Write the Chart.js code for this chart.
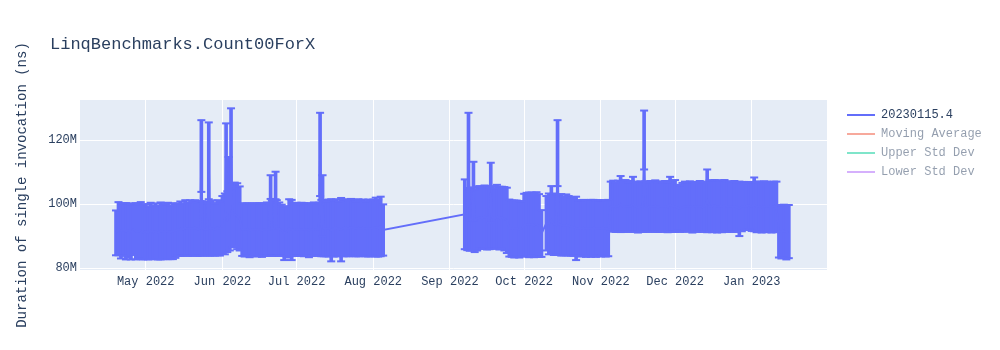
<!DOCTYPE html>
<html><head><meta charset="utf-8">
<script src="https://cdn.jsdelivr.net/npm/chart.js@4.4.1/dist/chart.umd.min.js"></script>
<style>
body{margin:0;background:#fff;}
#wrap{position:relative;width:1000px;height:350px;font-family:"Liberation Mono","Courier New",monospace;}
#c{position:absolute;left:0;top:0;}
#title{position:absolute;left:50px;top:35px;font-size:17px;line-height:20px;color:#2a3f5f;white-space:pre;}
#legend{position:absolute;left:847px;top:105px;}
.li{height:19px;display:flex;align-items:center;font-size:12px;color:#2a3f5f;white-space:pre;}
.sw{width:28px;height:2px;margin-right:6px;}
</style></head>
<body><div id="wrap"><canvas id="c" width="1000" height="350"></canvas><div id="title"></div><div id="legend"></div></div>
<script>
const chartTitle = 'LinqBenchmarks.Count00ForX';
const yAxisTitle = 'Duration of single invocation (ns)';
const seriesLabel = '20230115.4';
const extraSeries = ['Moving Average', 'Upper Std Dev', 'Lower Std Dev'];
const extraColors = ['#EF553B', '#00cc96', '#ab63fa'];
const mainColor = '#636efa';

// run timestamps (some days have a second, later run)
const dates = [
 '2022-04-19','2022-04-20','2022-04-21','2022-04-22','2022-04-23','2022-04-24','2022-04-25','2022-04-26','2022-04-27','2022-04-28','2022-04-29','2022-04-30',
 '2022-05-01','2022-05-02','2022-05-03','2022-05-04','2022-05-05','2022-05-06','2022-05-07','2022-05-08','2022-05-09','2022-05-10','2022-05-11','2022-05-12','2022-05-13','2022-05-14','2022-05-15','2022-05-16','2022-05-17','2022-05-18','2022-05-19','2022-05-20','2022-05-21','2022-05-22','2022-05-23','2022-05-23T12:00','2022-05-24','2022-05-25','2022-05-26','2022-05-26T12:00','2022-05-27','2022-05-28','2022-05-29','2022-05-30','2022-05-31',
 '2022-06-01','2022-06-02','2022-06-02T12:00','2022-06-03','2022-06-03T12:00','2022-06-04','2022-06-04T12:00','2022-06-05','2022-06-06','2022-06-07','2022-06-08','2022-06-09','2022-06-10','2022-06-11','2022-06-12','2022-06-13','2022-06-14','2022-06-15','2022-06-16','2022-06-17','2022-06-18','2022-06-19','2022-06-20','2022-06-20T12:00','2022-06-21','2022-06-22','2022-06-22T12:00','2022-06-23','2022-06-24','2022-06-25','2022-06-26','2022-06-27','2022-06-28','2022-06-29','2022-06-30',
 '2022-07-01','2022-07-02','2022-07-03','2022-07-04','2022-07-05','2022-07-06','2022-07-07','2022-07-08','2022-07-09','2022-07-10','2022-07-10T12:00','2022-07-11','2022-07-11T12:00','2022-07-12','2022-07-13','2022-07-14','2022-07-15','2022-07-16','2022-07-17','2022-07-18','2022-07-19','2022-07-20','2022-07-21','2022-07-22','2022-07-23','2022-07-24','2022-07-25','2022-07-26','2022-07-27','2022-07-28','2022-07-29','2022-07-30','2022-07-31',
 '2022-08-01','2022-08-02','2022-08-03','2022-08-04','2022-08-05',
 '2022-09-07','2022-09-08','2022-09-08T12:00','2022-09-09','2022-09-10','2022-09-10T12:00','2022-09-11','2022-09-12','2022-09-13','2022-09-14','2022-09-15','2022-09-16','2022-09-17','2022-09-17T12:00','2022-09-18','2022-09-19','2022-09-20','2022-09-21','2022-09-22','2022-09-23','2022-09-24','2022-09-25','2022-09-26','2022-09-27','2022-09-28','2022-09-29','2022-09-30',
 '2022-10-01','2022-10-02','2022-10-03','2022-10-04','2022-10-05','2022-10-06','2022-10-07','2022-10-08',
 '2022-10-10','2022-10-11','2022-10-12','2022-10-13','2022-10-14','2022-10-14T12:00','2022-10-15','2022-10-16','2022-10-17','2022-10-18','2022-10-19','2022-10-20','2022-10-21','2022-10-22','2022-10-23','2022-10-24','2022-10-25','2022-10-26','2022-10-27','2022-10-28','2022-10-29','2022-10-30','2022-10-31',
 '2022-11-01','2022-11-02','2022-11-03','2022-11-04',
 '2022-11-05','2022-11-06','2022-11-07','2022-11-08','2022-11-09','2022-11-10','2022-11-11','2022-11-12','2022-11-13','2022-11-14','2022-11-15','2022-11-16','2022-11-17','2022-11-18','2022-11-18T12:00','2022-11-19','2022-11-20','2022-11-21','2022-11-22','2022-11-23','2022-11-24','2022-11-25','2022-11-26','2022-11-27','2022-11-28','2022-11-29','2022-11-30',
 '2022-12-01','2022-12-02','2022-12-03','2022-12-04','2022-12-05','2022-12-06','2022-12-07','2022-12-08','2022-12-09','2022-12-10','2022-12-11','2022-12-12','2022-12-13','2022-12-14','2022-12-15','2022-12-16','2022-12-17','2022-12-18','2022-12-19','2022-12-20','2022-12-21','2022-12-22','2022-12-23','2022-12-24','2022-12-25','2022-12-26','2022-12-27','2022-12-28','2022-12-29','2022-12-30','2022-12-31',
 '2023-01-01','2023-01-02','2023-01-03','2023-01-04','2023-01-05','2023-01-06','2023-01-07','2023-01-08','2023-01-09','2023-01-10','2023-01-11','2023-01-12','2023-01-13','2023-01-14','2023-01-15','2023-01-16'
];

// mean duration per run, in millions of ns
const means = [
 91.0,92.3,91.6,92.0,91.5,91.8,91.3,92.1,91.5,91.4,91.7,91.2,
 91.4,91.0,91.6,91.2,91.5,91.1,91.6,91.3,91.4,91.6,91.2,91.5,91.7,92.0,92.3,92.0,92.6,92.2,92.5,92.3,92.6,92.1,92.4,115.0,92.4,92.0,92.2,113.5,92.3,92.5,92.1,92.6,92.3,
 93.5,93.8,114.0,94.5,106.5,95.5,117.0,96.5,96.8,96.2,95.5,92.0,91.9,92.1,91.8,92.0,92.2,91.9,92.1,91.8,92.0,92.2,92.0,105.3,92.4,92.3,105.8,92.5,92.2,91.8,90.9,91.4,92.4,91.9,92.0,
 92.1,91.9,92.2,92.0,92.1,91.8,92.0,92.2,92.0,92.1,115.5,92.5,99.5,92.4,92.3,92.5,91.8,92.4,92.6,92.3,92.0,92.5,92.6,92.4,92.7,92.5,92.3,92.6,92.4,92.6,92.3,92.5,92.4,
 92.6,92.8,92.5,93.0,91.9,
 96.8,95.3,116.7,95.0,95.4,104.0,94.8,95.5,95.8,95.6,96.0,95.7,95.6,103.5,95.9,95.5,96.1,95.6,95.8,95.4,94.9,92.5,92.3,92.2,92.4,92.1,92.3,
 93.4,93.6,93.5,93.7,93.4,93.6,93.3,90.8,
 94.0,93.8,95.0,93.7,93.5,115.9,93.6,93.5,93.2,93.5,93.2,93.0,92.8,92.4,92.5,92.4,92.6,92.3,92.5,92.4,92.6,92.3,92.5,
 92.4,92.6,92.3,92.5,
 99.2,99.4,99.0,99.3,100.0,99.2,99.4,99.1,99.3,99.9,99.2,99.0,99.3,99.1,120.0,99.2,99.0,99.3,99.1,99.4,99.0,99.2,99.1,99.3,99.0,99.9,99.3,
 99.4,98.8,98.6,99.0,99.2,99.1,99.3,99.0,99.2,99.1,99.3,99.0,99.2,101.0,99.4,99.3,99.5,99.2,99.4,99.3,99.5,99.2,99.2,99.1,99.3,99.0,98.5,99.2,99.4,99.3,99.5,
 99.2,99.9,99.1,99.2,99.0,99.3,99.1,99.2,99.0,99.2,99.1,91.5,91.3,91.6,91.2,91.4
];

// error bar half-height per run, in millions of ns
const errs = [
 7.0,8.3,8.6,8.2,8.8,8.4,8.6,8.0,8.8,8.5,8.9,8.5,
 8.6,8.3,8.8,8.4,8.7,8.4,8.9,8.5,8.6,8.8,8.4,8.7,8.5,8.1,8.5,8.2,8.6,8.3,8.7,8.4,8.6,8.3,8.5,11.2,8.5,8.1,8.3,12.0,8.4,8.6,8.2,8.6,8.4,
 9.0,9.5,11.2,9.5,8.2,10.0,12.9,10.0,9.9,10.3,10.0,8.2,8.3,8.1,8.4,8.2,8.0,8.3,8.2,8.3,8.2,8.3,8.2,3.7,8.6,8.5,4.3,8.7,8.3,8.0,8.4,7.8,9.1,9.4,8.2,
 8.3,8.1,8.2,8.3,8.1,8.4,8.2,8.3,8.1,8.3,13.0,8.8,9.5,8.7,8.6,8.9,9.7,8.8,8.9,8.6,9.9,8.8,8.9,8.7,8.9,8.8,8.6,8.9,8.7,8.8,8.6,8.9,8.7,
 8.8,9.2,8.9,9.3,8.0,
 10.9,9.7,11.8,9.6,9.8,9.2,9.8,10.0,9.8,9.6,9.8,9.9,9.7,9.4,9.7,9.5,9.9,9.8,9.6,9.9,10.2,8.9,8.8,8.9,8.7,8.8,8.6,
 9.8,9.9,10.1,9.9,10.0,10.1,9.8,7.3,
 8.5,9.5,10.6,9.6,9.4,10.3,9.4,9.6,9.2,9.5,9.3,9.1,9.0,9.9,8.7,8.8,8.7,8.8,8.6,8.9,8.7,8.8,8.7,
 8.8,8.6,8.7,8.8,
 7.8,7.9,7.7,8.0,8.75,7.8,8.1,7.7,7.9,8.6,7.8,7.9,7.8,7.8,9.2,7.9,7.6,7.9,7.8,8.0,7.7,7.9,7.6,7.9,7.8,8.6,8.0,
 8.1,7.2,7.3,7.6,7.8,7.7,7.8,7.9,7.7,7.8,7.9,7.7,7.8,9.8,8.0,8.1,8.0,8.1,7.9,8.1,8.0,7.9,7.8,7.8,7.9,7.7,8.5,7.7,7.5,7.2,7.4,
 7.6,8.4,7.9,7.8,7.9,7.8,7.9,7.7,7.9,7.8,7.9,8.2,8.3,8.2,8.5,8.3
];

const monthTicks = ['2022-05-01','2022-06-01','2022-07-01','2022-08-01','2022-09-01','2022-10-01','2022-11-01','2022-12-01','2023-01-01'];
const monthLabels = ['May 2022','Jun 2022','Jul 2022','Aug 2022','Sep 2022','Oct 2022','Nov 2022','Dec 2022','Jan 2023'];
const yTicks = [80, 100, 120];
const xRange = ['2022-04-04T10:30', '2023-01-31T10:30'];
const yRange = [79.4, 132.5];

const FONT = '"Liberation Mono", "Courier New", monospace';
const toMs = d => Date.parse(d.length > 10 ? d + ':00Z' : d + 'T00:00:00Z');
const xs = dates.map(toMs);
const linePts = xs.map((x, i) => ({x, y: means[i]}));
const stemPts = xs.map((x, i) => ({x, y: [means[i] - errs[i], means[i] + errs[i]]}));
const hiPts = xs.map((x, i) => ({x, y: means[i] + errs[i]}));
const loPts = xs.map((x, i) => ({x, y: means[i] - errs[i]}));

document.getElementById('title').textContent = chartTitle;

const plotBg = {
  id: 'plotBg',
  beforeDraw(chart) {
    const {ctx, chartArea: {left, top, width, height}} = chart;
    ctx.save(); ctx.fillStyle = '#E5ECF6'; ctx.fillRect(left, top, width, height); ctx.restore();
  }
};

const capDataset = (data) => ({
  type: 'line', data, showLine: false, pointStyle: 'line', pointRadius: 4, pointHoverRadius: 4,
  pointBorderWidth: 2, pointBorderColor: mainColor, pointBackgroundColor: mainColor, order: 2
});

const chart = new Chart(document.getElementById('c'), {
  type: 'line',
  data: {
    datasets: [
      {type: 'bar', label: seriesLabel + ' error', data: stemPts, backgroundColor: mainColor, borderWidth: 0,
       barThickness: 3, grouped: false, order: 3},
      capDataset(hiPts),
      capDataset(loPts),
      {type: 'line', label: seriesLabel, data: linePts, borderColor: mainColor, borderWidth: 2,
       pointRadius: 0, tension: 0, fill: false, order: 1},
      ...extraSeries.map((name, i) => ({type: 'line', label: name, data: [], borderColor: extraColors[i], hidden: true}))
    ]
  },
  options: {
    responsive: false, animation: false, devicePixelRatio: 1, events: [],
    layout: {padding: {top: 100, right: 173, bottom: 0, left: 0}},
    plugins: {legend: {display: false}, title: {display: false}, tooltip: {enabled: false}},
    scales: {
      x: {
        type: 'linear', offset: false, min: toMs(xRange[0]), max: toMs(xRange[1]),
        afterBuildTicks: s => { s.ticks = monthTicks.map(d => ({value: toMs(d)})); },
        ticks: {autoSkip: false, maxRotation: 0, padding: 5, color: '#2a3f5f', font: {family: FONT, size: 12},
                callback: (v, i) => monthLabels[i]},
        grid: {offset: false, color: '#ffffff', lineWidth: 1, drawTicks: false},
        border: {display: false},
        afterFit: s => { s.height = 80; }
      },
      y: {
        type: 'linear', min: yRange[0], max: yRange[1],
        afterBuildTicks: s => { s.ticks = yTicks.map(v => ({value: v})); },
        ticks: {padding: 3, color: '#2a3f5f', font: {family: FONT, size: 12}, callback: v => v + 'M'},
        grid: {color: '#ffffff', lineWidth: 1, drawTicks: false},
        border: {display: false},
        title: {display: true, text: yAxisTitle, color: '#2a3f5f', font: {family: FONT, size: 14}, padding: {top: 14, bottom: 0}},
        afterFit: s => { s.width = 80; }
      }
    }
  },
  plugins: [plotBg]
});

const legendEl = document.getElementById('legend');
const legendItems = [{label: seriesLabel, color: mainColor, hidden: false}]
  .concat(extraSeries.map((n, i) => ({label: n, color: extraColors[i], hidden: true})));
legendItems.forEach(it => {
  const row = document.createElement('div');
  row.className = 'li';
  if (it.hidden) row.style.opacity = '0.5';
  const sw = document.createElement('span');
  sw.className = 'sw'; sw.style.background = it.color;
  const tx = document.createElement('span');
  tx.textContent = it.label;
  row.appendChild(sw); row.appendChild(tx);
  legendEl.appendChild(row);
});
</script>
</body></html>
